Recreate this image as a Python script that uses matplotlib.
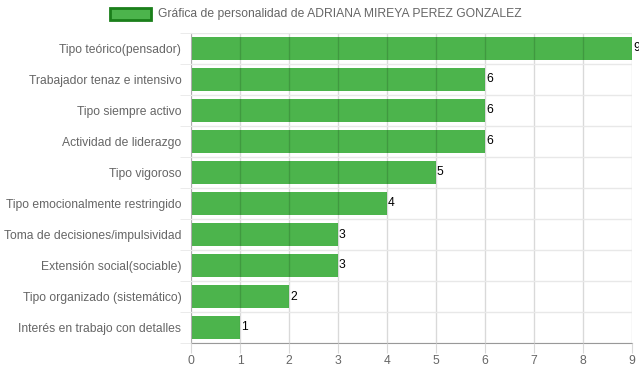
import matplotlib.pyplot as plt
from matplotlib.patches import Rectangle

plt.rcParams["font.family"] = ["Liberation Sans", "DejaVu Sans"]

categories = ["Tipo teórico(pensador)", "Trabajador tenaz e intensivo", "Tipo siempre activo",
              "Actividad de liderazgo", "Tipo vigoroso", "Tipo emocionalmente restringido",
              "Toma de decisiones/impulsividad", "Extensión social(sociable)",
              "Tipo organizado (sistemático)", "Interés en trabajo con detalles"]
values = [9, 6, 6, 6, 5, 4, 3, 3, 2, 1]
title = "Gráfica de personalidad de ADRIANA MIREYA PEREZ GONZALEZ"

fig = plt.figure(figsize=(6.39, 3.72), dpi=100)
ax = fig.add_axes([191 / 639, 1 - 343 / 372, 441 / 639, 310 / 372])

n = len(categories)
pos = list(range(n))
ax.barh(pos, values, height=0.72, color="#4cb44c", zorder=2)
for i, v in enumerate(values):
    ax.text(v + 0.02, i, str(v), va="center", ha="left", fontsize=8.7, color="black", zorder=4)

ax.set_xlim(0, 9)
ax.set_ylim(n - 0.5, -0.5)
ax.set_xticks(range(10))
ax.set_yticks(pos)
ax.set_yticklabels(categories)
ax.set_yticks([i - 0.5 for i in range(n + 1)], minor=True)

ax.set_axisbelow(False)
ax.grid(axis="x", color="#000000", alpha=0.15, linewidth=1)
ax.grid(axis="y", which="minor", color="#e8e8e8", linewidth=1)
ax.tick_params(axis="x", length=7, color="#d9d9d9", labelcolor="#666666", labelsize=8.7, pad=2)
ax.tick_params(axis="y", which="major", length=0, labelcolor="#666666", labelsize=8.7, pad=7)
ax.tick_params(axis="y", which="minor", length=8, color="#e8e8e8")
for s in ["top", "right"]:
    ax.spines[s].set_visible(False)
ax.spines["left"].set_color("#cccccc")
ax.spines["bottom"].set_color("#999999")

fig.patches.append(Rectangle((110 / 639, 1 - 20 / 372), 41 / 639, 12 / 372,
                             transform=fig.transFigure, facecolor="#4cb44c",
                             edgecolor="#1a7f1a", linewidth=2))
fig.text(158 / 639, 1 - 14 / 372, title, va="center", ha="left", fontsize=8.7, color="#666666")

fig.savefig("out.png", dpi=100)
